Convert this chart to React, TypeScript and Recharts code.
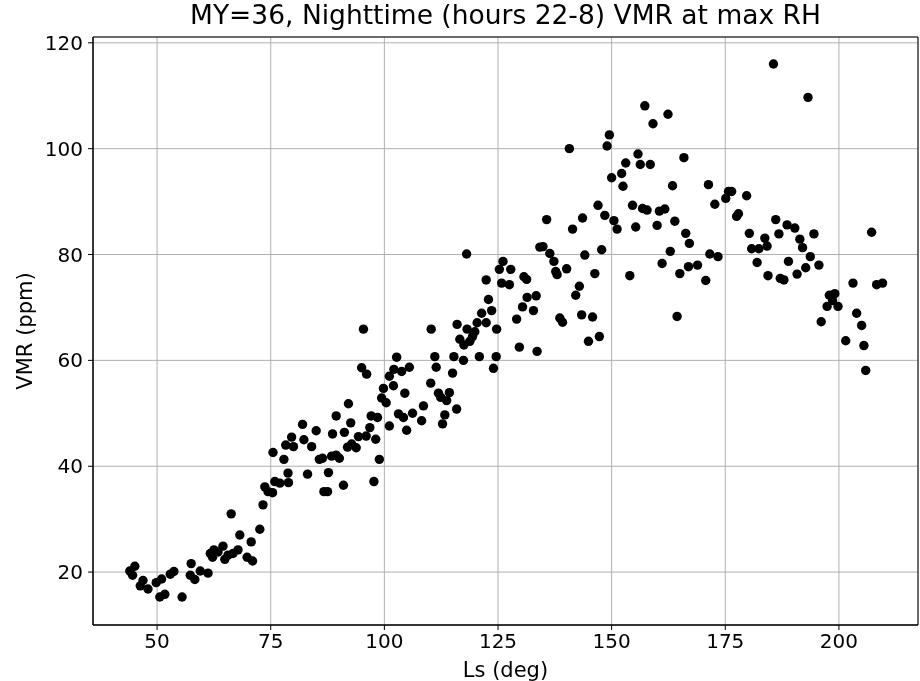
import { ScatterChart, Scatter, XAxis, YAxis, CartesianGrid, ReferenceArea } from "recharts"

// [Ls, VMR], grouped by season range
const earlySpring: [number, number][] = [
  [44.0, 20.2], [45.1, 21.1], [44.6, 19.4], [46.9, 18.4], [46.3, 17.4], [48.0, 16.8],
  [49.8, 18.0], [51.0, 18.7], [50.6, 15.3], [51.7, 15.8], [52.9, 19.6], [53.7, 20.1],
  [55.5, 15.3], [57.5, 21.6], [57.3, 19.4], [58.3, 18.6], [59.5, 20.2], [61.2, 19.8],
  [61.7, 23.5], [62.5, 24.2], [62.2, 22.8], [63.4, 23.8], [64.5, 24.9], [64.9, 22.4],
  [65.6, 23.2], [66.3, 31.0], [66.7, 23.5], [68.2, 27.0], [67.8, 24.2], [69.8, 22.8],
  [70.7, 25.7], [71.0, 22.1], [72.6, 28.1], [73.3, 32.7], [73.7, 36.1], [74.4, 35.2],
  [75.4, 35.0], [75.9, 37.1], [75.5, 42.6], [77.0, 36.8], [77.9, 41.3], [78.3, 44.0],
  [78.8, 38.7],
]

const lateSpring: [number, number][] = [
  [78.9, 36.9], [79.6, 45.5], [80.0, 43.7], [82.0, 47.9], [82.3, 45.0], [83.1, 38.5],
  [84.0, 43.7], [85.0, 46.7], [85.7, 41.3], [86.4, 41.5], [86.7, 35.2], [87.5, 35.2],
  [87.7, 38.8], [88.4, 41.9], [88.6, 46.1], [89.4, 49.5], [89.4, 42.1], [90.1, 41.5],
  [91.0, 36.4], [91.2, 46.4], [91.9, 43.6], [92.1, 51.8], [92.6, 48.2], [92.8, 44.2],
  [93.8, 43.5], [94.3, 45.6], [95.4, 65.9], [95.0, 58.6], [96.1, 57.4], [96.0, 45.7],
  [96.8, 47.3], [97.1, 49.5], [97.7, 37.1], [98.1, 45.1], [98.5, 49.2], [98.9, 41.3],
  [99.4, 52.9], [99.8, 54.7], [100.4, 52.0], [101.1, 47.6], [101.1, 57.0], [102.0, 55.2],
  [102.1, 58.3], [102.7, 60.6], [103.1, 49.9], [103.8, 57.9], [104.2, 49.2], [104.5, 53.8],
  [104.9, 46.8], [105.5, 58.7], [106.2, 50.0], [108.2, 48.6], [108.6, 51.4], [110.3, 65.9],
  [110.2, 55.7], [111.1, 60.7], [111.4, 58.7], [111.9, 53.8], [112.4, 53.0], [112.8, 48.0],
  [113.3, 49.7],
]

const earlySummer: [number, number][] = [
  [113.7, 52.4], [114.3, 53.9], [115.9, 50.8], [115.0, 57.6], [115.3, 60.7], [116.0, 66.8],
  [116.6, 64.0], [117.4, 60.0], [117.5, 62.9], [118.1, 80.1], [118.2, 65.9], [118.8, 63.6],
  [119.4, 64.5], [119.9, 65.4], [120.4, 67.1], [120.9, 60.7], [121.4, 68.9], [122.4, 67.1],
  [122.4, 75.2], [122.9, 71.5], [123.6, 69.4], [124.0, 58.5], [124.6, 60.7], [124.7, 65.9],
  [125.3, 77.2], [125.8, 74.6], [126.1, 78.7], [127.5, 74.3], [127.8, 77.2], [129.1, 67.8],
  [129.7, 62.5], [130.4, 70.1], [130.7, 75.8], [131.3, 75.3], [131.4, 71.9], [132.8, 69.4],
  [133.4, 72.2], [133.6, 61.7], [134.2, 81.4], [134.9, 81.5],
]

const lateSummer: [number, number][] = [
  [157.3, 108.1], [149.5, 102.6], [149.0, 100.5], [140.7, 100.0], [155.8, 99.0], [153.1, 97.3],
  [156.3, 97.0], [152.2, 95.3], [150.0, 94.5], [152.5, 92.9], [147.0, 89.3], [148.5, 87.4],
  [154.6, 89.3], [156.8, 88.7], [157.8, 88.4], [150.5, 86.4], [151.2, 84.8], [155.3, 85.2],
  [143.6, 86.9], [141.4, 84.8], [135.7, 86.6], [147.8, 80.9], [144.1, 79.9], [136.4, 80.2],
  [137.3, 78.7], [140.1, 77.3], [137.7, 76.8], [138.0, 76.2], [146.3, 76.4], [154.0, 76.0],
  [142.9, 74.0], [142.1, 72.3], [143.4, 68.6], [145.8, 68.2], [147.3, 64.5], [144.9, 63.6],
  [138.6, 68.0], [139.2, 67.2],
]

const earlyAutumn: [number, number][] = [
  [162.4, 106.5], [159.1, 104.7], [165.9, 98.3], [158.5, 97.0], [163.4, 93.0], [171.3, 93.2],
  [175.7, 91.9], [176.4, 91.9], [175.1, 90.6], [179.7, 91.1], [172.7, 89.5], [160.5, 88.2],
  [161.7, 88.6], [163.9, 86.3], [160.0, 85.5], [177.5, 87.2], [177.9, 87.7], [166.3, 84.0],
  [167.1, 82.1], [180.3, 84.0], [183.7, 83.1], [180.8, 81.1], [182.4, 81.1], [184.2, 81.6],
  [162.9, 80.6], [171.6, 80.1], [173.4, 79.6], [182.0, 78.5], [161.1, 78.3], [166.9, 77.7],
  [168.9, 78.0], [165.0, 76.4], [170.7, 75.1], [164.4, 68.3], [184.4, 76.0],
]

const lateAutumn: [number, number][] = [
  [185.6, 116.0], [193.2, 109.7], [186.1, 86.6], [188.6, 85.6], [190.3, 85.0], [186.8, 83.9],
  [191.4, 82.9], [194.5, 83.9], [192.0, 81.3], [193.7, 79.6], [188.9, 78.7], [195.6, 78.0],
  [192.7, 77.5], [190.8, 76.3], [187.1, 75.5], [187.9, 75.2], [207.2, 84.2], [203.1, 74.6],
  [208.3, 74.3], [209.6, 74.6], [197.9, 72.3], [199.1, 72.6], [197.4, 70.2], [199.8, 70.2],
  [198.6, 71.3], [196.1, 67.3], [203.9, 68.9], [205.0, 66.6], [201.5, 63.7], [205.5, 62.8],
  [205.9, 58.1],
]

const xTicks = [50, 75, 100, 125, 150, 175, 200]
const yTicks = [20, 40, 60, 80, 100, 120]
const xDomain = [35.9, 217.4]
const yDomain = [10.0, 121.1]

const points = [...earlySpring, ...lateSpring, ...earlySummer, ...lateSummer, ...earlyAutumn, ...lateAutumn]
  .map(([ls, vmr]) => ({ ls, vmr }))

const font = "DejaVu Sans, sans-serif"

const Dot = (props: any) => <circle cx={props.cx} cy={props.cy} r={4.7} fill="#000" />

export default function App() {
  return (
    <div style={{ position: "fixed", left: 0, top: 0, width: 920, height: 681, background: "#fff", fontFamily: font }}>
      <div
        style={{
          position: "absolute",
          left: 93,
          top: 0,
          width: 825,
          height: 30,
          lineHeight: "30px",
          textAlign: "center",
          fontSize: 26.5,
          color: "#000",
        }}
      >
        MY=36, Nighttime (hours 22-8) VMR at max RH
      </div>
      <ScatterChart width={920} height={681} margin={{ top: 37, right: 2, bottom: 0, left: 0 }}>
        <CartesianGrid stroke="#b0b0b0" strokeWidth={1} />
        <XAxis
          type="number"
          dataKey="ls"
          domain={xDomain}
          ticks={xTicks}
          height={56}
          tickSize={5}
          tickMargin={4}
          stroke="#000"
          tick={{ fill: "#000", fontSize: 20, fontFamily: font }}
          label={{ value: "Ls (deg)", position: "insideBottom", offset: 4, fill: "#000", fontSize: 21, fontFamily: font }}
        />
        <YAxis
          type="number"
          dataKey="vmr"
          domain={yDomain}
          ticks={yTicks}
          width={93}
          tickSize={5}
          tickMargin={5}
          stroke="#000"
          tick={{ fill: "#000", fontSize: 20, fontFamily: font }}
          label={{
            value: "VMR (ppm)",
            angle: -90,
            position: "insideLeft",
            offset: 25,
            fill: "#000",
            fontSize: 21,
            fontFamily: font,
            style: { textAnchor: "middle" },
          }}
        />
        <ReferenceArea x1={xDomain[0]} x2={xDomain[1]} y1={yDomain[0]} y2={yDomain[1]} fill="none" stroke="#000" strokeWidth={1} fillOpacity={0} />
        <Scatter data={points} shape={Dot} isAnimationActive={false} />
      </ScatterChart>
    </div>
  )
}
